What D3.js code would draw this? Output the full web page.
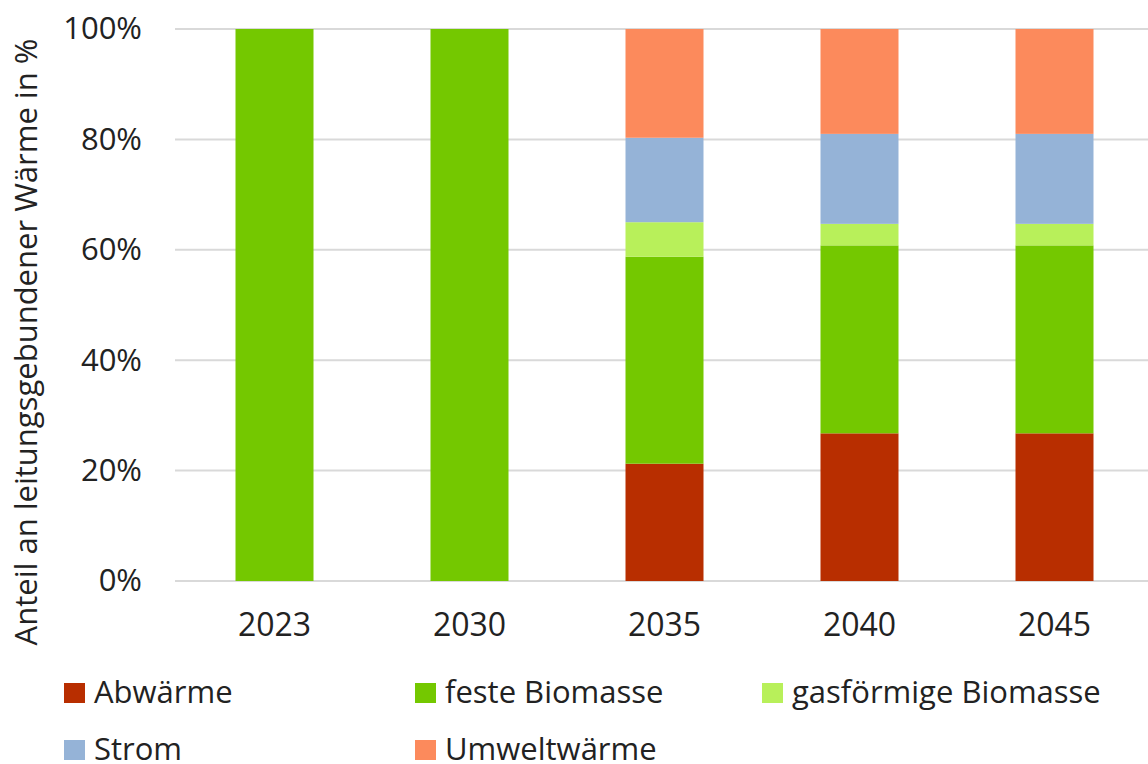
<!DOCTYPE html>
<html><head><meta charset="utf-8">
<script src="https://cdn.jsdelivr.net/npm/d3@7"></script>
<style>body{margin:0;background:#fff}svg{display:block}text{font-family:"Open Sans",sans-serif;fill:#222}</style>
</head><body><svg id="c" width="1148" height="764"></svg>
<script>
const years = ["2023","2030","2035","2040","2045"];
const seriesNames = ["Abwärme","feste Biomasse","gasförmige Biomasse","Strom","Umweltwärme"];
const colors = ["#b82e00","#74c800","#b8f05a","#95b3d7","#fc8a5c"];
const abwaerme = [0, 0, 21.25, 26.75, 26.75];
const festeBiomasse = [100, 100, 37.5, 34.05, 34.05];
const gasBiomasse = [0, 0, 6.25, 3.9, 3.9];
const strom = [0, 0, 15.3, 16.3, 16.3];
const umwelt = [0, 0, 19.7, 19.0, 19.0];
const yTicks = [0,20,40,60,80,100];

(function(){
const seriesVals = [abwaerme, festeBiomasse, gasBiomasse, strom, umwelt];
const table = years.map((yr,i)=>{const o={year:yr};seriesNames.forEach((s,j)=>o[s]=seriesVals[j][i]);return o;});

const svg = d3.select("#c");
const pL=175, pR=1150, pT=29, pB=581;
const x = d3.scaleBand().domain(years).range([pL+2,pR+2]).paddingInner(0.6).paddingOuter(0.3);
const y = d3.scaleLinear().domain([0,100]).range([pB,pT]);

svg.append("g").selectAll("line").data(yTicks).join("line")
  .attr("x1",pL).attr("x2",1148).attr("y1",d=>y(d)).attr("y2",d=>y(d))
  .attr("stroke","#d9d9d9").attr("stroke-width",2);

const stack = d3.stack().keys(seriesNames)(table);
svg.append("g").selectAll("g").data(stack).join("g").attr("fill",(d,i)=>colors[i])
  .selectAll("rect").data(d=>d).join("rect")
  .attr("x",d=>x(d.data.year)).attr("width",x.bandwidth())
  .attr("y",d=>y(d[1])).attr("height",d=>Math.max(0,y(d[0])-y(d[1])));

const ya = svg.append("g").attr("transform",`translate(${pL},0)`)
  .call(d3.axisLeft(y).tickValues(yTicks).tickFormat(d=>d+"%").tickSize(0).tickPadding(33));
ya.select(".domain").remove();
ya.selectAll("text").style("font-size","31px").style("font-family","'Open Sans',sans-serif").attr("fill","#222");

const xa = svg.append("g").attr("transform",`translate(0,${pB})`)
  .call(d3.axisBottom(x).tickSize(0).tickPadding(32));
xa.select(".domain").remove();
xa.selectAll("text").style("font-size","32px").style("font-family","'Open Sans',sans-serif").attr("fill","#222");

svg.append("text").attr("transform","translate(37,342) rotate(-90)").attr("text-anchor","middle")
  .style("font-size","31px").text("Anteil an leitungsgebundener Wärme in %");

const legPos = [[64,703],[415,703],[762,703],[64,760],[415,760]];
const lg = svg.append("g").selectAll("g").data(seriesNames).join("g")
  .attr("transform",(d,i)=>`translate(${legPos[i][0]},${legPos[i][1]})`);
lg.append("rect").attr("x",0).attr("y",-20).attr("width",21).attr("height",20).attr("fill",(d,i)=>colors[i]);
lg.append("text").attr("x",30).attr("y",0).style("font-size","31px").text(d=>d);
})();
</script></body></html>
